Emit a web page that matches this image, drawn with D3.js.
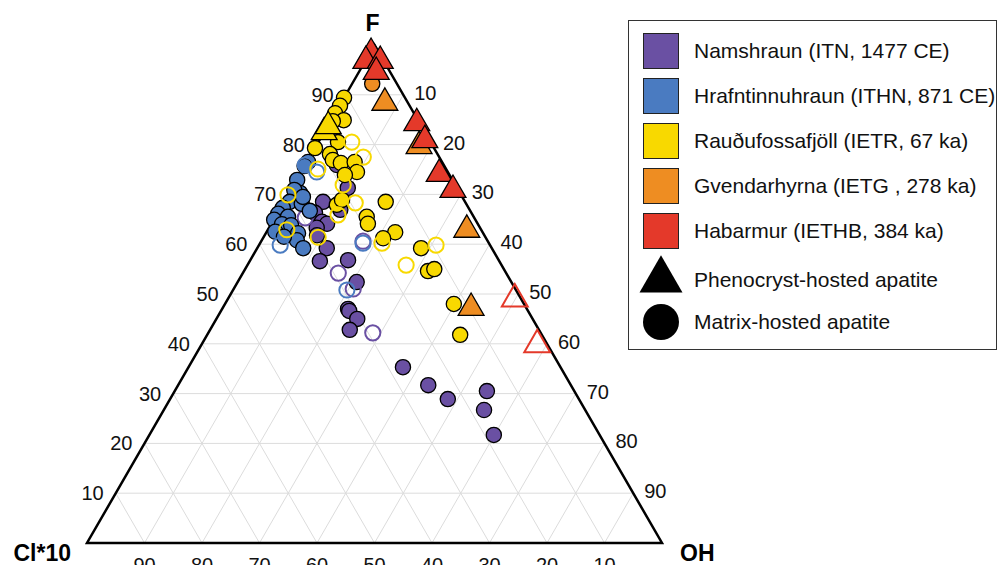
<!DOCTYPE html>
<html>
<head>
  <meta charset="utf-8">
  <title>Apatite F - Cl*10 - OH</title>
  <script src="https://d3js.org/d3.v7.min.js"></script>
  <style>
    body { margin: 0; background: white; }
    svg { font-family: "Liberation Sans", Arial, Helvetica, sans-serif; }
  </style>
</head>
<body>
<script>
  // ternary values, each point is [F, Cl*10, OH] in percent
  const namMatrix = [
    [75.9, 18.6, 5.5], [71.3, 19.0, 9.7], [68.5, 24.7, 6.8], [66.9, 22.5, 10.6],
    [66.3, 27.2, 6.5], [64.5, 26.9, 8.6], [64.1, 26.2, 9.7], [63.3, 28.4, 8.3],
    [61.8, 29.1, 9.1], [59.2, 28.7, 12.1], [56.6, 31.2, 12.2], [56.8, 26.2, 17.0],
    [52.4, 26.9, 20.7], [47.0, 31.1, 21.9], [46.6, 31.1, 22.3], [45.0, 30.5, 24.5],
    [42.8, 32.9, 24.3], [35.3, 27.4, 37.3], [31.7, 24.8, 43.5], [28.9, 22.8, 48.3],
    [30.5, 15.2, 54.3], [26.7, 17.6, 55.7], [21.7, 18.4, 59.9]
  ];
  const namOpen = [
    [65.3, 29.4, 5.3], [54.2, 29.2, 16.6], [51.0, 28.2, 20.8], [42.2, 29.2, 28.6], [60.6, 21.7, 17.7]
  ];
  const hraMatrix = [
    [76.5, 23.3, 0.2], [75.7, 24.3, 0.0], [72.9, 27.0, 0.1], [70.3, 27.8, 1.9],
    [70.9, 28.5, 0.6], [68.5, 30.5, 1.0], [67.3, 32.3, 0.4], [68.1, 28.6, 3.3],
    [66.7, 27.9, 5.4], [66.1, 33.7, 0.2], [64.9, 35.0, 0.1], [65.5, 32.3, 2.2],
    [64.0, 34.1, 1.9], [63.8, 32.6, 3.6], [62.2, 32.2, 5.6], [60.8, 33.1, 6.1],
    [59.2, 32.8, 8.0], [62.5, 36.0, 1.5], [69.5, 27.7, 2.8], [61.5, 35.0, 3.5]
  ];
  const hraOpen = [
    [75.9, 24.1, 0.0], [74.5, 22.8, 2.7], [59.8, 36.5, 3.7], [50.8, 29.4, 19.8], [60.2, 21.9, 17.9]
  ];
  const rauPheno = [[82.5, 17.5, 0.0], [83.7, 16.2, 0.1]];
  const rauMatrix = [
    [89.4, 10.6, 0.0], [87.8, 12.1, 0.1], [86.3, 13.7, 0.0], [84.9, 12.9, 2.2],
    [84.7, 14.9, 0.4], [80.5, 16.1, 3.4], [79.3, 20.7, 0.0], [78.1, 18.7, 3.2],
    [76.9, 18.8, 4.3], [76.3, 17.7, 6.0], [76.5, 15.2, 8.3], [74.5, 15.8, 9.7],
    [73.9, 18.2, 7.9], [68.5, 13.8, 17.7], [67.9, 22.6, 9.5], [68.9, 21.2, 9.9],
    [65.5, 18.6, 15.9], [64.1, 19.1, 16.8], [62.4, 15.2, 22.4], [61.2, 17.9, 20.9],
    [59.2, 12.3, 28.5], [54.6, 13.4, 32.0], [55.0, 12.1, 32.9], [48.0, 12.2, 39.8],
    [41.8, 14.2, 44.0]
  ];
  const rauOpen = [
    [80.5, 13.7, 5.8], [77.5, 13.2, 9.3], [75.1, 22.3, 2.6], [71.9, 19.5, 8.6],
    [69.9, 30.1, 0.0], [68.3, 19.2, 12.5], [65.9, 23.4, 10.7], [62.9, 33.8, 3.3],
    [61.4, 29.1, 9.5], [60.2, 18.6, 21.2], [59.8, 9.4, 30.8], [55.8, 16.6, 27.6]
  ];
  const gveMatrix = [[92.2, 4.3, 3.5]];
  const gvePheno = [[88.4, 4.0, 7.6], [79.7, 2.4, 17.9], [62.9, 2.5, 34.6], [47.2, 9.6, 43.2]];
  const habPheno = [
    [98.4, 1.4, 0.2], [96.8, 3.1, 0.1], [96.8, 0.6, 2.6], [94.6, 2.4, 3.0],
    [84.3, 0.5, 15.2], [80.9, 0.8, 18.3], [74.1, 1.7, 24.2], [70.9, 0.9, 28.2]
  ];
  const habOpenPheno = [[49.0, 1.1, 49.9], [39.8, 1.8, 58.4]];

  const ticks = [10, 20, 30, 40, 50, 60, 70, 80, 90];
  const legendNames = [
    "Namshraun (ITN, 1477 CE)",
    "Hrafntinnuhraun (ITHN, 871 CE)",
    "Rauðufossafjöll (IETR, 67 ka)",
    "Gvendarhyrna (IETG , 278 ka)",
    "Habarmur (IETHB, 384 ka)"
  ];
  const legendColors = ["#6a50a3", "#4a7bc1", "#f8d900", "#ee8d22", "#e4392a"];

  const width = 998, height = 565;
  const svg = d3.select("body").append("svg")
    .attr("width", width)
    .attr("height", height);

  // triangle frame: Cl*10 bottom-left, OH bottom-right, F top
  const xScale = d3.scaleLinear().domain([0, 100]).range([87, 662]);
  const yScale = d3.scaleLinear().domain([0, 100]).range([543, 45]);
  const px = (F, OH) => xScale(OH + F / 2);
  const py = F => yScale(F);

  // grid
  const grid = svg.append("g").attr("stroke", "#dcdcdc").attr("stroke-width", 1);
  ticks.forEach(k => {
    // constant F
    grid.append("line").attr("x1", px(k, 0)).attr("y1", py(k)).attr("x2", px(k, 100 - k)).attr("y2", py(k));
    // constant OH
    grid.append("line").attr("x1", px(0, k)).attr("y1", py(0)).attr("x2", px(100 - k, k)).attr("y2", py(100 - k));
    // constant Cl
    grid.append("line").attr("x1", px(0, 100 - k)).attr("y1", py(0)).attr("x2", px(100 - k, 0)).attr("y2", py(100 - k));
  });

  // outline
  svg.append("path")
    .attr("d", d3.line()([[px(100, 0), py(100)], [px(0, 0), py(0)], [px(0, 100), py(0)], [px(100, 0), py(100)]]) + "Z")
    .attr("fill", "none")
    .attr("stroke", "black")
    .attr("stroke-width", 2.5)
    .attr("stroke-linejoin", "miter");

  // tick labels
  const tickG = svg.append("g").attr("font-size", 20).attr("fill", "#111");
  ticks.forEach(k => {
    tickG.append("text").attr("x", px(k, 0) - 12).attr("y", py(k)).attr("dy", "0.35em")
      .attr("text-anchor", "end").text(k);
    tickG.append("text").attr("x", px(100 - k, k) + 11).attr("y", py(100 - k) - 2).attr("dy", "0.35em")
      .attr("text-anchor", "start").text(k);
    tickG.append("text").attr("x", px(0, 100 - k)).attr("y", py(0) + 29)
      .attr("text-anchor", "middle").text(k);
  });

  // corner labels
  const corner = svg.append("g").attr("font-size", 23).attr("font-weight", "bold");
  corner.append("text").attr("x", px(100, 0) - 2).attr("y", py(100) - 14).attr("text-anchor", "middle").text("F");
  corner.append("text").attr("x", px(0, 0) - 16).attr("y", py(0) + 18).attr("text-anchor", "end").text("Cl*10");
  corner.append("text").attr("x", px(0, 100) + 18).attr("y", py(0) + 18).attr("text-anchor", "start").text("OH");

  const tri = d3.symbol(d3.symbolTriangle, 290);
  const pts = svg.append("g");

  function circles(data, color, open) {
    pts.append("g").selectAll("circle").data(data).join("circle")
      .attr("cx", d => px(d[0], d[2]))
      .attr("cy", d => py(d[0]))
      .attr("r", 7.6)
      .attr("fill", open ? "none" : color)
      .attr("stroke", open ? color : "black")
      .attr("stroke-width", open ? 2 : 1.3);
  }
  function triangles(data, color, open) {
    pts.append("g").selectAll("path").data(data).join("path")
      .attr("d", tri())
      .attr("transform", d => `translate(${px(d[0], d[2])},${py(d[0])})`)
      .attr("fill", open ? "none" : color)
      .attr("stroke", open ? color : "black")
      .attr("stroke-width", open ? 2 : 1.3)
      .attr("stroke-linejoin", "miter");
  }

  circles(namMatrix, legendColors[0], false);
  circles(namOpen, legendColors[0], true);
  circles(hraMatrix, legendColors[1], false);
  circles(hraOpen, legendColors[1], true);
  circles(rauMatrix, legendColors[2], false);
  circles(rauOpen, legendColors[2], true);
  triangles(rauPheno, legendColors[2], false);
  circles(gveMatrix, legendColors[3], false);
  triangles(gvePheno, legendColors[3], false);
  triangles(habPheno, legendColors[4], false);
  triangles(habOpenPheno, legendColors[4], true);

  // legend
  const lg = svg.append("g").attr("font-size", 21).attr("fill", "#111");
  lg.append("rect").attr("x", 628.5).attr("y", 20.5).attr("width", 368).attr("height", 329)
    .attr("fill", "white").attr("stroke", "#333").attr("stroke-width", 1);
  legendNames.forEach((name, i) => {
    const y0 = 33 + i * 45;
    lg.append("rect").attr("x", 643.5).attr("y", y0 + 0.5).attr("width", 35).attr("height", 35)
      .attr("fill", legendColors[i]).attr("stroke", "#222").attr("stroke-width", 1);
    lg.append("text").attr("x", 694).attr("y", y0 + 25).text(name);
  });
  lg.append("path")
    .attr("d", d3.symbol(d3.symbolTriangle, 800)())
    .attr("transform", "translate(661,280)")
    .attr("fill", "black");
  lg.append("text").attr("x", 694).attr("y", 287).text("Phenocryst-hosted apatite");
  lg.append("circle").attr("cx", 661).attr("cy", 322).attr("r", 18).attr("fill", "black");
  lg.append("text").attr("x", 694).attr("y", 329).text("Matrix-hosted apatite");
</script>
</body>
</html>
